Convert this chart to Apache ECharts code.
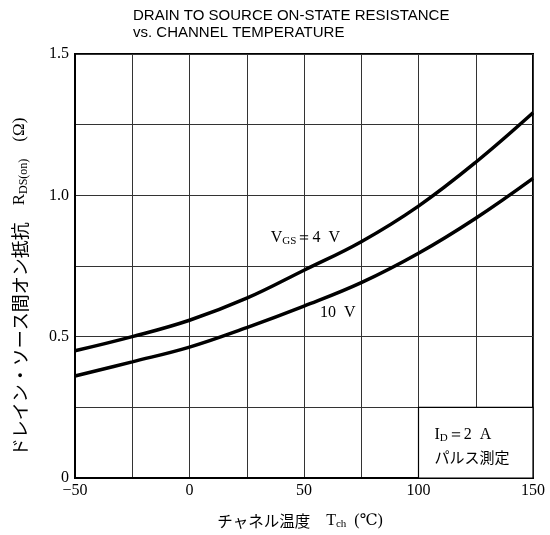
<!DOCTYPE html>
<html><head><meta charset="utf-8">
<script src="https://cdn.jsdelivr.net/npm/echarts@6/dist/echarts.min.js"></script>
<style>html,body{margin:0;padding:0;background:#fff}#c{width:550px;height:535px}</style>
</head><body><div id="c"></div>
<script>
const temps = [-50, -25, 0, 25, 50, 75, 100, 125, 150];
const rdsVgs4 = [0.45, 0.50, 0.558, 0.636, 0.735, 0.836, 0.962, 1.117, 1.292];
const rdsVgs10 = [0.361, 0.411, 0.463, 0.532, 0.608, 0.691, 0.795, 0.919, 1.060];
const xTicks = [-50, 0, 50, 100, 150];
const yTicks = [0, 0.5, 1.0, 1.5];

const serif = '"Liberation Serif","DejaVu Serif",serif';
const jp = '"Noto Sans CJK JP",sans-serif';
const chart = echarts.init(document.getElementById('c'));
const pair = arr => temps.map((t, i) => [t, arr[i]]);

chart.setOption({
  animation: false,
  backgroundColor: '#fff',
  grid: {left: 75, right: 17, top: 54, bottom: 57, show: true, borderColor: '#000', borderWidth: 2},
  xAxis: {
    type: 'value', min: -50, max: 150, interval: 25,
    axisLine: {show: true, onZero: false, lineStyle: {color: '#000', width: 2}},
    axisTick: {show: false},
    splitLine: {show: true, lineStyle: {color: '#333', width: 1}},
    axisLabel: {color: '#000', fontFamily: serif, fontSize: 16, margin: 5,
      formatter: v => xTicks.includes(v) ? (v < 0 ? '\u2212' + (-v) : String(v)) : ''}
  },
  yAxis: {
    type: 'value', min: 0, max: 1.5, interval: 0.25,
    axisLine: {show: true, onZero: false, lineStyle: {color: '#000', width: 2}},
    axisTick: {show: false},
    splitLine: {show: true, lineStyle: {color: '#333', width: 1}},
    axisLabel: {color: '#000', fontFamily: serif, fontSize: 16, margin: 6,
      formatter: v => yTicks.some(t => Math.abs(t - v) < 1e-9) ? (v === 0 ? '0' : v.toFixed(1)) : ''}
  },
  series: [
    {type: 'line', data: pair(rdsVgs4), smooth: 0.4, showSymbol: false,
     lineStyle: {color: '#000', width: 3.5}, z: 5,
     markArea: {silent: true, itemStyle: {color: '#fff', borderColor: '#000', borderWidth: 1.2},
       data: [[{coord: [100, 0]}, {coord: [150, 0.25]}]]}},
    {type: 'line', data: pair(rdsVgs10), smooth: 0.4, showSymbol: false,
     lineStyle: {color: '#000', width: 3.5}, z: 5}
  ]
});

const p = (x, y) => chart.convertToPixel({gridIndex: 0}, [x, y]);
const a4 = p(35.5, 0.85), a10 = p(57, 0.585), box = p(107, 0.152), box2 = p(107, 0.072);
const sub = {fontFamily: serif, fontSize: 11, verticalAlign: 'bottom', lineHeight: 12, padding: [6, 0, 0, 0]};
chart.setOption({
  graphic: [
    {type: 'text', left: 133, top: 7, z: 100, style: {text: 'DRAIN TO SOURCE ON-STATE RESISTANCE\nvs. CHANNEL TEMPERATURE',
      font: '15px "Liberation Sans",Arial,sans-serif', fill: '#000', lineHeight: 17}},
    {type: 'text', x: a4[0], y: a4[1], z: 100, style: {text: '{n|V}{s|GS}{n|＝4  V}',
      rich: {n: {fontFamily: serif, fontSize: 16, lineHeight: 18}, s: sub}, fill: '#000', verticalAlign: 'middle'}},
    {type: 'text', x: a10[0], y: a10[1], z: 100, style: {text: '10  V', font: '16px ' + serif, fill: '#000', verticalAlign: 'middle'}},
    {type: 'text', x: box[0], y: box[1], z: 100, style: {text: '{n|I}{s|D}{n|＝2  A}',
      rich: {n: {fontFamily: serif, fontSize: 16, lineHeight: 18}, s: sub}, fill: '#000', verticalAlign: 'middle'}},
    {type: 'text', x: box2[0], y: box2[1], z: 100, style: {text: 'パルス測定', font: '15px ' + jp, fill: '#000', verticalAlign: 'middle'}},
    {type: 'text', x: 300, y: 521, z: 100, style: {text: '{j|チャネル温度}{n|　T}{s|ch}{n|  (℃)}',
      rich: {j: {fontFamily: jp, fontSize: 15.5, lineHeight: 18}, n: {fontFamily: serif, fontSize: 16, lineHeight: 18}, s: sub},
      fill: '#000', align: 'center', verticalAlign: 'middle'}},
    {type: 'text', x: 20, y: 287, z: 100, rotation: Math.PI / 2, style: {text: '{j|ドレイン・ソース間オン抵抗}{n|　R}{s|DS(on)}{n|　(Ω)}',
      rich: {j: {fontFamily: jp, fontSize: 18, lineHeight: 20}, n: {fontFamily: serif, fontSize: 17, lineHeight: 20}, s: {fontFamily: serif, fontSize: 12, verticalAlign: 'bottom', lineHeight: 12, padding: [7, 0, 0, 0]}},
      fill: '#000', align: 'center', verticalAlign: 'middle'}}
  ]
});
</script></body></html>
